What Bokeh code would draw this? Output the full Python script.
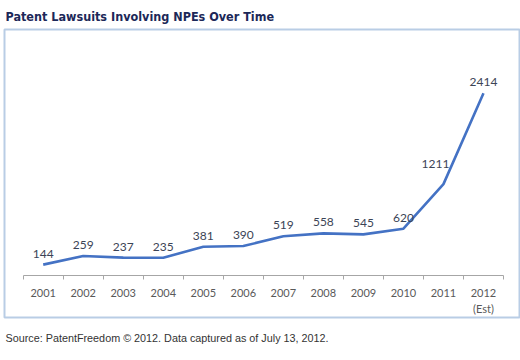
from bokeh.plotting import figure
from bokeh.models import LinearAxis, FixedTicker, Range1d, Title, ColumnDataSource
from bokeh.core.properties import value
from bokeh.embed import file_html
from bokeh.resources import INLINE

years = ["2001", "2002", "2003", "2004", "2005", "2006", "2007", "2008", "2009", "2010", "2011", "2012\n(Est)"]
lawsuits = [144, 259, 237, 235, 381, 390, 519, 558, 545, 620, 1211, 2414]
title_text = "Patent Lawsuits Involving NPEs Over Time"
source_text = "Source: PatentFreedom \u00a9 2012. Data captured as of July 13, 2012."

# pixel nudges of the value labels (1211 sits left of the steep segment)
label_dx = [0, 0, 0, 0, 0, 0, 0, 0, 0, 0, -8, 0]
label_dy = [-11, -11, -11, -11, -11, -11, -11, -11, -11, -11, -20, -11]

xs = list(range(len(years)))
bounds = [i - 0.5 for i in range(len(years) + 1)]

src = ColumnDataSource(dict(x=xs, y=lawsuits, label=[str(v) for v in lawsuits],
                            dx=label_dx, dy=label_dy))

p = figure(frame_width=515, frame_height=288, output_backend="svg", toolbar_location=None,
           x_range=Range1d(-0.967, 11.9), y_range=Range1d(-557, 3260),
           x_axis_type=None, y_axis_type=None,
           min_border_left=4, min_border_right=1, min_border_top=29, min_border_bottom=43)
p.background_fill_color = "white"
p.border_fill_color = "white"
p.outline_line_color = "#b9cde5"
p.outline_line_width = 2
p.xgrid.visible = False
p.ygrid.visible = False

p.title = Title(text=title_text, align="left",
                text_font="'DejaVu Sans Condensed', 'Liberation Sans', sans-serif",
                text_font_size="12.5px", text_font_style="bold", text_color="#1c2858",
                standoff=11, offset=1)

xaxis = LinearAxis(fixed_location=0,
                   ticker=FixedTicker(ticks=xs, minor_ticks=bounds),
                   major_label_overrides={i: y for i, y in enumerate(years)})
xaxis.bounds = (bounds[0], bounds[-1])
xaxis.axis_line_color = "#a6a6a6"
xaxis.axis_line_width = 1
xaxis.major_tick_line_color = None
xaxis.major_tick_in = 0
xaxis.major_tick_out = 0
xaxis.minor_tick_line_color = "#a6a6a6"
xaxis.minor_tick_in = 0
xaxis.minor_tick_out = 4
xaxis.major_label_standoff = 7
xaxis.major_label_text_font = "Lato"
xaxis.major_label_text_font_size = "11px"
xaxis.major_label_text_color = "#595959"
p.add_layout(xaxis, "below")

p.line("x", "y", source=src, line_color="#4472c4", line_width=2.6)
p.text("x", "y", text="label", source=src, text_align="center", text_baseline="alphabetic",
       x_offset="dx", y_offset="dy", text_font=value("Lato"), text_font_size="12px",
       text_color="#3c4456")

p.add_layout(Title(text=source_text, align="left", text_font="Liberation Sans",
                   text_font_size="10.8px", text_font_style="normal", text_color="#333333",
                   standoff=25, offset=1), "below")

open("out.html", "w").write(file_html(p, INLINE))
